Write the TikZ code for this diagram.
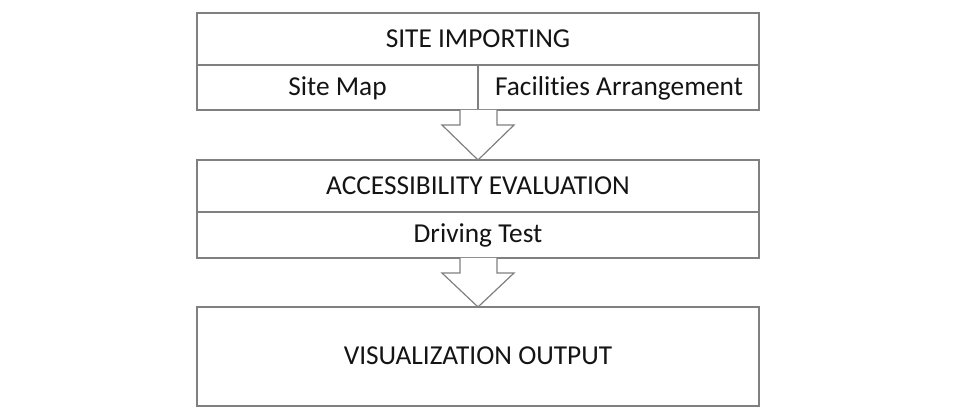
\documentclass[tikz,border=0pt]{standalone}
\usepackage{fontspec}
\setmainfont{Carlito}[Ligatures=NoCommon]
\begin{document}
\begin{tikzpicture}[x=0.75pt,y=-0.75pt,
  boxline/.style={draw=black!50,line width=0.9pt},
  lbl/.style={inner sep=0pt,anchor=center,font=\fontsize{20.5}{23}\selectfont,text=black!92},
  blockarrow/.style={draw=black!50,line width=0.9pt,fill=white,line join=miter}]
\useasboundingbox[fill=white] (0,0) rectangle (961,416);
% top box
\draw[boxline] (197,13) rectangle (759,110);
\draw[boxline] (197,65) -- (759,65);
\draw[boxline] (478,65) -- (478,110);
\node[lbl] (imp) at (478,39) {SITE IMPORTING};
\node[lbl] (map) at (337.5,88) {Site Map};
\node[lbl] (fac) at (619,88) {Facilities Arrangement};
% middle box
\draw[boxline] (197,160) rectangle (759,258);
\draw[boxline] (197,212) -- (759,212);
\node[lbl] (acc) at (478,186) {ACCESSIBILITY EVALUATION};
\node[lbl] (drv) at (478,235) {Driving Test};
% bottom box
\draw[boxline] (197,307) rectangle (759,406);
\node[lbl] (vis) at (478,356) {VISUALIZATION OUTPUT};
% block arrows
\draw[blockarrow] (460,110) -- (460,125) -- (442,125) -- (478,160) -- (514,125) -- (497,125) -- (497,110);
\draw[blockarrow] (460,258) -- (460,273) -- (442,273) -- (478,307) -- (514,273) -- (497,273) -- (497,258);
\end{tikzpicture}
\end{document}
